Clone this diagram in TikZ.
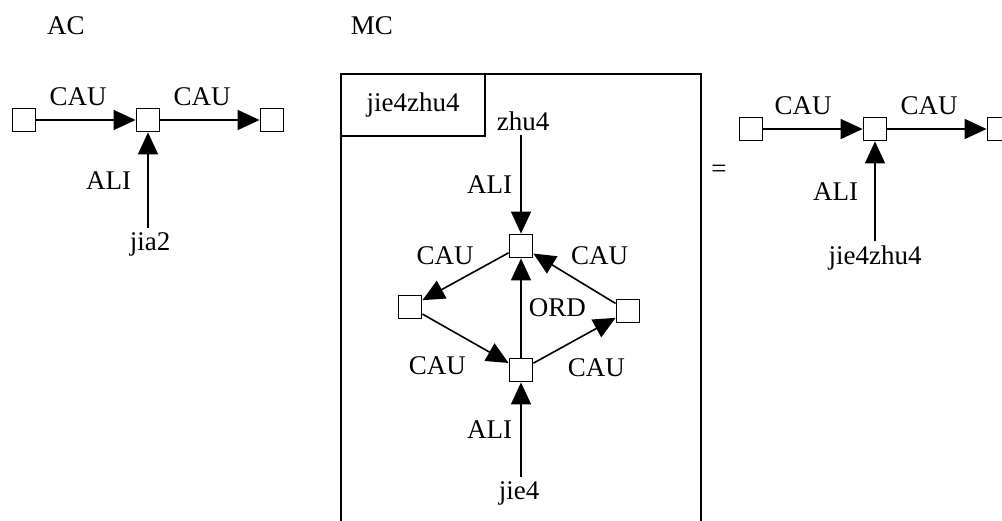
\documentclass[tikz,border=0pt]{standalone}
\usepackage{fontspec}
\setmainfont{Liberation Serif}
\usetikzlibrary{arrows.meta}
\begin{document}
\begin{tikzpicture}[
  x=0.5pt, y=-0.5pt,
  font=\fontsize{13.5}{16}\selectfont,
  cell/.style={draw, line width=0.9pt, minimum size=11.5pt, inner sep=0pt},
  word/.style={inner sep=2pt},
  lbl/.style={inner sep=2pt},
  rel/.style={line width=0.8pt, -{Triangle[length=11pt, width=10pt]}},
  namebox/.style={draw, line width=0.9pt, minimum width=72pt, minimum height=31pt, inner sep=0pt}
]
\useasboundingbox (0,0) rectangle (1002,520);
\clip (0,0) rectangle (1002,520);

\node (ac) at (66,26) {AC};
\node (mc) at (372,26) {MC};

\node[cell] (a1) at (24,120) {};
\node[cell] (a2) at (148,120) {};
\node[cell] (a3) at (272,120) {};
\node[word] (jia) at (150,244) {jia2};

\draw[rel] (a1) -- node[lbl, above=4.5pt, pos=0.42] {CAU} (a2);
\draw[rel] (a2) -- node[lbl, above=4.5pt, pos=0.42] {CAU} (a3);
\draw[rel] (jia.north -| a2) -- node[lbl, left=6pt] {ALI} (a2);

\draw[line width=0.9pt] (341,74) rectangle (701,560);
\node[namebox] (mcname) at (413,105) {jie4zhu4};
\node[word] (zhu) at (523,121) {zhu4};
\node[cell] (t) at (521,246) {};
\node[cell] (l) at (410,307) {};
\node[cell] (r) at (628,311) {};
\node[cell] (b) at (521,370) {};
\node[word] (jie) at (519,493) {jie4};

\draw[rel] (zhu.south -| t) -- node[lbl, left=2pt] {ALI} (t);
\draw[rel] (t) -- node[lbl, above left, pos=0.35] {CAU} (l);
\draw[rel] (r) -- node[lbl, above right, pos=0.6, yshift=2pt] {CAU} (t);
\draw[rel] (b) -- node[lbl, right=1.5pt] {ORD} (t);
\draw[rel] (l) -- node[lbl, below left, pos=0.56, yshift=-5pt] {CAU} (b);
\draw[rel] (b) -- node[lbl, below right, pos=0.36, yshift=-3.5pt] {CAU} (r);
\draw[rel] (jie.north -| b) -- node[lbl, left=2pt] {ALI} (b);

\node (eq) at (719,171) {=};

\node[cell] (c1) at (751,129) {};
\node[cell] (c2) at (875,129) {};
\node[cell] (c3) at (999,129) {};
\node[word] (jz) at (875,258) {jie4zhu4};

\draw[rel] (c1) -- node[lbl, above=4.5pt, pos=0.4] {CAU} (c2);
\draw[rel] (c2) -- node[lbl, above=4.5pt, pos=0.42] {CAU} (c3);
\draw[rel] (jz) -- node[lbl, left=6pt] {ALI} (c2);
\end{tikzpicture}
\end{document}
